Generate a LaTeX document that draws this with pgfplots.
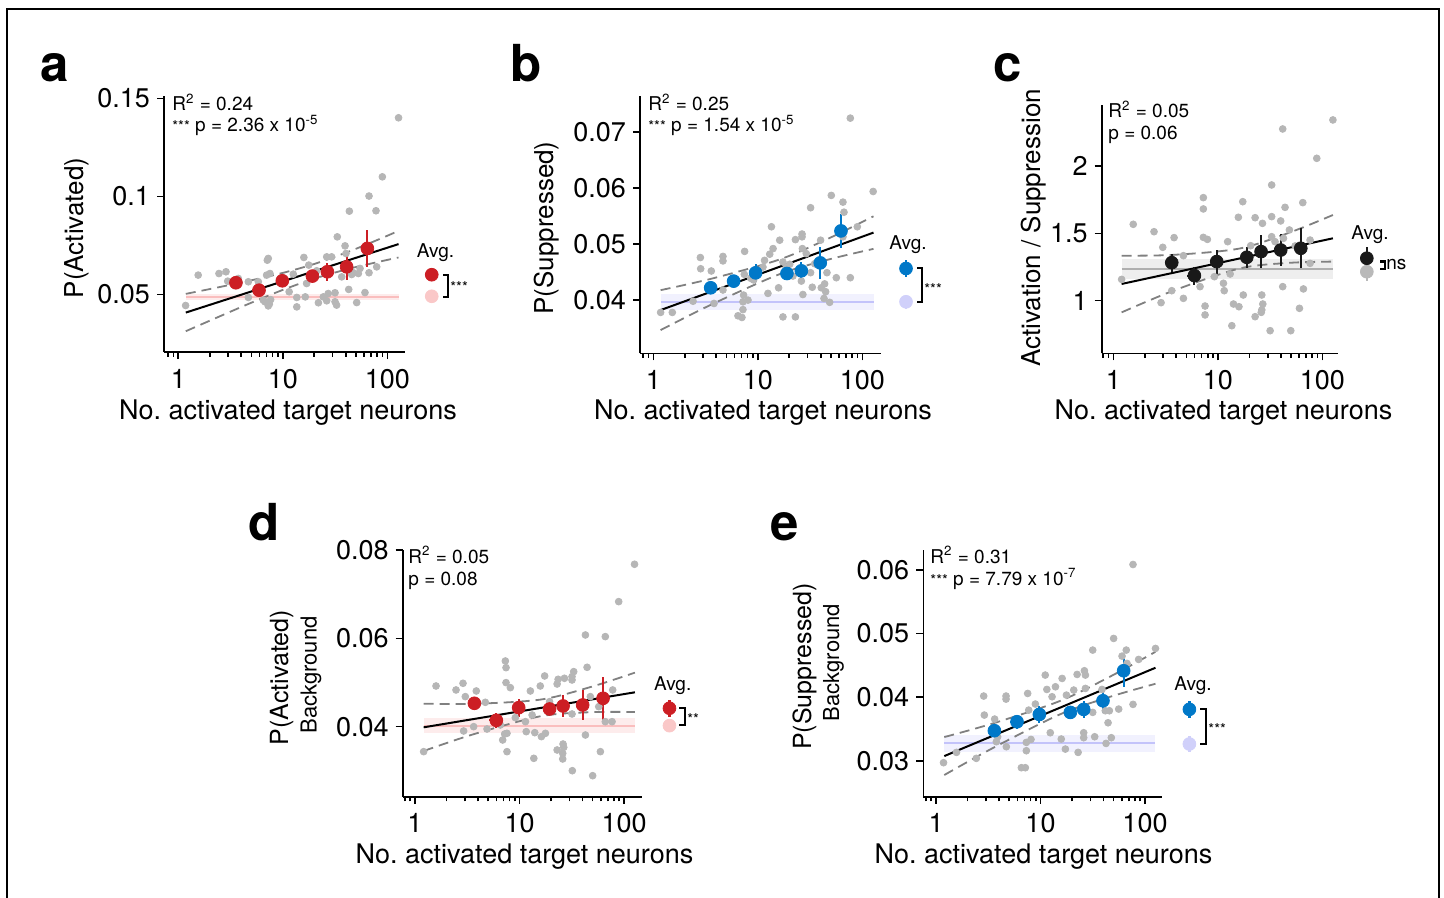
\documentclass[border=0pt]{standalone}
\usepackage{fontspec}
\setmainfont{TeX Gyre Heros}
\usepackage{pgfplots}
\pgfplotsset{compat=1.18}
\newcommand\fs[1]{\fontsize{#1}{#1}\selectfont}
\definecolor{myred}{RGB}{204,30,36}
\definecolor{pinkline}{RGB}{250,190,190}
\definecolor{pinkband}{RGB}{253,236,236}
\definecolor{pinkdot}{RGB}{250,200,200}
\definecolor{myblue}{RGB}{0,120,200}
\definecolor{lavline}{RGB}{195,195,250}
\definecolor{lavband}{RGB}{241,241,254}
\definecolor{lavdot}{RGB}{208,208,250}
\definecolor{ptgray}{RGB}{182,182,182}
\definecolor{dashgray}{RGB}{128,128,128}
\definecolor{myblack}{RGB}{25,25,25}
\definecolor{cline}{RGB}{175,175,175}
\definecolor{cband}{RGB}{238,238,238}
\definecolor{cdot}{RGB}{185,185,185}
\pgfplotsset{
 panel/.style={
  scale only axis,
  axis lines*=left, axis line style={line width=0.8pt, black},
  tick align=outside,
  major tick length=3.5pt, minor tick length=2.3pt,
  tick style={line width=0.8pt, black},
  xtick={1,10,100}, xticklabels={1,10,100},
  minor xtick={0.8,0.9,2,3,4,5,6,7,8,9,20,30,40,50,60,70,80,90},
  tick label style={font=\fs{13.5}},
  xticklabel style={yshift=-1.5pt},
  scaled y ticks=false,
  clip=false,
 },
 gpts/.style={only marks, mark=*, mark size=1.7pt, color=ptgray},
 means/.style={only marks, mark=*, mark size=3.2pt, color=#1,
   error bars/x dir=both, error bars/x explicit,
   error bars/y dir=both, error bars/y explicit,
   error bars/error bar style={line width=1.1pt, color=#1}, error bars/error mark=none},
 ci/.style={dash pattern=on 5pt off 3pt, line width=0.9pt, color=dashgray, smooth},
 reg/.style={line width=1pt, black},
}
\begin{document}
\begin{tikzpicture}
\path[use as bounding box] (0,0) rectangle (722pt,-449pt);
\draw[line width=0.6pt] (3.5pt,-449pt) -- (3.5pt,-4.5pt) -- (719.5pt,-4.5pt) -- (719.5pt,-449pt);

% ---------------- panel a
\begin{axis}[xmode=log, panel, at={(82pt,-176pt)}, anchor=south west, width=120.5pt, height=128pt,
  xmin=0.73, xmax=147.6, ymin=0.0207, ymax=0.1512,
  ytick={0.05,0.1,0.15}, yticklabels={0.05,0.1,0.15}]
\addplot[fill=pinkband, draw=none] coordinates {(1.18,0.0471) (128,0.0471) (128,0.0505) (1.18,0.0505)} -- cycle;
\addplot[pinkline, line width=1pt] coordinates {(1.18,0.0488) (128,0.0488)};
\addplot[gpts] coordinates {(1.175,0.0444) (1.55,0.0599) (2.45,0.0607) (2.86,0.0616) (2.97,0.0568) (3.75,0.0582) (4.68,0.0565) (4.68,0.0485) (7.11,0.0675) (7.26,0.0684) (7.0,0.0599) (7.54,0.0607) (6.51,0.0471) (6.75,0.0463) (7.43,0.0451) (7.26,0.0442) (7.65,0.0474) (11.5,0.0514) (12.6,0.0604) (13.6,0.0485) (13.6,0.0437) (15.9,0.0689) (16.9,0.0556) (16.4,0.0488) (17.7,0.0650) (21.9,0.0458) (24.4,0.0488) (26.3,0.0468) (27.2,0.0505) (26.3,0.0692) (29.3,0.0692) (33.2,0.0794) (31.6,0.0509) (36.6,0.0590) (39.4,0.0748) (40.2,0.0709) (42.7,0.0526) (43.3,0.0925) (45.6,0.0602) (47.3,0.0611) (50.9,0.0459) (52.8,0.0607) (61.1,0.0510) (66.8,0.0611) (66.8,0.1002) (77.9,0.0927) (79.1,0.0641) (89.6,0.1100) (128,0.1401) (32.7,0.0446) (18.2,0.0590) (21.1,0.0621) (5.83,0.0565) (31.6,0.0463) (54.8,0.0633)};
\addplot[ci] coordinates {(1.18,0.05034) (2.33,0.05350) (4.85,0.05709) (10.1,0.06108) (20.3,0.06569) (43.9,0.07210) (91.6,0.07910) (128,0.08247)};
\addplot[ci] coordinates {(1.18,0.03130) (2.33,0.03820) (4.85,0.04553) (10.1,0.05245) (20.3,0.05821) (43.9,0.06326) (91.6,0.06720) (128,0.06887)};
\addplot[reg] coordinates {(1.18,0.0408) (128,0.0757)};
\addplot[means=myred] coordinates {(3.56,0.0560) +- (0.5,0.0015) (5.92,0.0522) +- (0.8,0.0015) (9.89,0.0570) +- (1.3,0.002) (19.2,0.0594) +- (2,0.0025) (26.7,0.0616) +- (2,0.0045) (40.8,0.0641) +- (2.5,0.0065) (64.4,0.0735) +- (3,0.0095)};
\addplot[means=pinkdot] coordinates {(266,0.0491) +- (0,0.0010)};
\addplot[means=myred] coordinates {(266,0.0601) +- (0,0.0026)};
\end{axis}

% ---------------- panel b
\begin{axis}[xmode=log, panel, at={(320pt,-176.65pt)}, anchor=south west, width=120.35pt, height=128.5pt,
  xmin=0.746, xmax=150, ymin=0.0305, ymax=0.0764,
  ytick={0.04,0.05,0.06,0.07}, yticklabels={0.04,0.05,0.06,0.07}]
\addplot[fill=lavband, draw=none] coordinates {(1.175,0.0382) (128,0.0382) (128,0.0411) (1.175,0.0411)} -- cycle;
\addplot[lavline, line width=1pt] coordinates {(1.175,0.0397) (128,0.0397)};
\addplot[gpts] coordinates {(1.175,0.0378) (1.52,0.0378) (2.40,0.0398) (2.82,0.0476) (2.84,0.0456) (3.59,0.0452) (3.81,0.0394) (4.64,0.0478) (4.64,0.0470) (4.64,0.0418) (7.48,0.0487) (7.43,0.0446) (7.31,0.0409) (7.21,0.0397) (7.21,0.0383) (6.46,0.0372) (7.05,0.0369) (8.05,0.0400) (8.54,0.0439) (9.12,0.0436) (11.2,0.0459) (11.6,0.0471) (12.5,0.0412) (13.0,0.0482) (13.5,0.0531) (14.0,0.0492) (15.8,0.0422) (16.2,0.0507) (17.4,0.0468) (17.4,0.0370) (18.7,0.0458) (20.2,0.0464) (21.7,0.0443) (22.9,0.0508) (22.9,0.0370) (26.5,0.0518) (26.5,0.0513) (26.7,0.0492) (27.0,0.0410) (26.1,0.0434) (29.1,0.0483) (32.0,0.0565) (33.2,0.0423) (32.0,0.0449) (35.0,0.0465) (39.9,0.0507) (40.5,0.0422) (43.6,0.0429) (43.0,0.0403) (44.6,0.0415) (45.9,0.0449) (48.7,0.0396) (50.5,0.0587) (56.4,0.0440) (65.3,0.0575) (66.8,0.0557) (65.3,0.0513) (76.8,0.0440) (76.8,0.0725) (89.6,0.0531) (127,0.0594)};
\addplot[ci] coordinates {(1.175,0.04178) (3.72,0.04389) (16.3,0.04728) (48.7,0.05110) (128,0.05497)};
\addplot[ci] coordinates {(1.175,0.03465) (3.72,0.03934) (16.3,0.04466) (48.7,0.04730) (128,0.04915)};
\addplot[reg] coordinates {(1.175,0.03822) (128,0.05206)};
\addplot[means=myblue] coordinates {(3.54,0.04220) +- (0.5,0.0011) (5.87,0.04339) +- (0.8,0.0009) (9.53,0.04487) +- (1.2,0.0016) (19.0,0.04475) +- (2,0.0012) (26.1,0.04523) +- (2.5,0.0015) (39.6,0.04665) +- (2.5,0.0029) (62.5,0.05236) +- (3,0.0031)};
\addplot[means=lavdot] coordinates {(262,0.0397) +- (0,0.0012)};
\addplot[means=myblue] coordinates {(262,0.04565) +- (0,0.0015)};
\end{axis}

% ---------------- panel c
\begin{axis}[xmode=log, panel, at={(550.85pt,-176.65pt)}, anchor=south west, width=118.15pt, height=124.15pt,
  xmin=0.774, xmax=141, ymin=0.609, ymax=2.453,
  ytick={1,1.5,2}, yticklabels={1,1.5,2}]
\addplot[fill=cband, draw=none] coordinates {(1.20,1.158) (126,1.158) (126,1.309) (1.20,1.309)} -- cycle;
\addplot[cline, line width=1pt] coordinates {(1.20,1.235) (126,1.235)};
\addplot[gpts] coordinates {(1.20,1.158) (1.55,1.567) (2.45,1.512) (2.97,1.396) (2.86,0.985) (3.81,1.468) (3.62,1.074) (4.68,1.334) (4.68,1.017) (7.26,1.765) (7.26,1.681) (7.26,1.470) (7.94,1.455) (7.54,0.960) (7.54,0.894) (6.75,1.104) (9.26,1.178) (11.3,1.129) (11.5,1.074) (12.4,1.438) (13.1,1.198) (13.6,0.814) (14.1,0.975) (15.9,0.955) (15.7,1.619) (17.3,1.735) (17.5,1.042) (19.6,1.314) (20.6,1.408) (22.7,1.616) (22.7,0.881) (26.7,1.574) (26.3,1.042) (26.9,0.975) (26.3,0.931) (26.0,0.913) (32.7,1.624) (32.7,1.859) (31.6,0.777) (32.7,1.475) (35.2,1.438) (39.9,1.592) (41.7,2.275) (43.9,1.693) (41.7,1.104) (42.4,1.463) (48.3,1.525) (49.8,0.777) (54.8,1.406) (60.3,0.943) (64.9,1.728) (65.8,1.087) (76.2,1.277) (76.2,1.450) (88.3,2.057) (126,2.342)};
\addplot[ci] coordinates {(1.20,1.334) (3.75,1.340) (16.1,1.387) (49.0,1.507) (126,1.636)};
\addplot[ci] coordinates {(1.20,0.913) (3.75,1.074) (16.1,1.239) (49.0,1.281) (126,1.290)};
\addplot[reg] coordinates {(1.20,1.124) (126,1.463)};
\addplot[means=myblack] coordinates {(3.62,1.282) +- (0.45,0.067) (5.96,1.186) +- (0.9,0.067) (9.75,1.290) +- (1.2,0.089) (18.9,1.322) +- (1.8,0.077) (25.9,1.364) +- (2,0.12) (39.9,1.376) +- (2.5,0.12) (62.1,1.389) +- (3,0.149)};
\addplot[means=cdot] coordinates {(266,1.215) +- (0,0.07)};
\addplot[means=myblack] coordinates {(266,1.315) +- (0,0.08)};
\end{axis}

% ---------------- panel d
\begin{axis}[xmode=log, panel, at={(201.35pt,-398.35pt)}, anchor=south west, width=119.5pt, height=123.35pt,
  xmin=0.763, xmax=147.6, ymin=0.02414, ymax=0.08,
  ytick={0.04,0.06,0.08}, yticklabels={0.04,0.06,0.08}]
\addplot[fill=pinkband, draw=none] coordinates {(1.21,0.03864) (127,0.03864) (127,0.04189) (1.21,0.04189)} -- cycle;
\addplot[pinkline, line width=1pt] coordinates {(1.21,0.04023) (127,0.04023)};
\addplot[gpts] coordinates {(1.21,0.03434) (1.59,0.04921) (2.47,0.04831) (2.88,0.04982) (3.03,0.04680) (2.92,0.03902) (3.64,0.04000) (3.86,0.04808) (4.71,0.04551) (4.89,0.03947) (6.56,0.04038) (6.90,0.03698) (7.21,0.03834) (7.59,0.03849) (7.32,0.05487) (7.43,0.05336) (7.43,0.04997) (7.59,0.03434) (8.17,0.04883) (9.12,0.04204) (11.4,0.04113) (11.6,0.03887) (12.7,0.04808) (13.2,0.04264) (13.7,0.03283) (14.0,0.03864) (15.8,0.04921) (16.2,0.03774) (17.4,0.05148) (17.7,0.03849) (19.4,0.04566) (22.9,0.04966) (22.9,0.03472) (23.4,0.05072) (25.9,0.03396) (26.1,0.03607) (26.5,0.03532) (25.9,0.03268) (26.9,0.05095) (31.8,0.05057) (31.8,0.05133) (33.0,0.05246) (31.8,0.04287) (32.0,0.03003) (42.7,0.06076) (42.7,0.03811) (44.3,0.05344) (47.6,0.04680) (50.1,0.02890) (57.3,0.04453) (59.4,0.03434) (66.2,0.04113) (66.2,0.06039) (76.8,0.04113) (77.9,0.04831) (88.9,0.06831) (126,0.07677)};
\addplot[ci] coordinates {(1.21,0.04521) (3.64,0.04517) (15.9,0.04613) (47.6,0.04896) (127,0.05223)};
\addplot[ci] coordinates {(1.21,0.03449) (3.64,0.03829) (15.9,0.04236) (47.6,0.04327) (127,0.04332)};
\addplot[reg] coordinates {(1.21,0.03985) (127,0.04778)};
\addplot[means=myred] coordinates {(3.70,0.04529) +- (0.5,0.0015) (6.00,0.04143) +- (0.9,0.0017) (9.82,0.04430) +- (1.3,0.0020) (19.4,0.04400) +- (2,0.0014) (26.1,0.04468) +- (2,0.0026) (40.2,0.04491) +- (2.5,0.0035) (63.0,0.04642) +- (3,0.0049)};
\addplot[means=pinkdot] coordinates {(272,0.04023) +- (0,0.0010)};
\addplot[means=myred] coordinates {(272,0.04417) +- (0,0.0019)};
\end{axis}

% ---------------- panel e
\begin{axis}[xmode=log, panel, at={(461.65pt,-398.35pt)}, anchor=south west, width=119.2pt, height=123.35pt,
  xmin=0.756, xmax=144.5, ymin=0.02434, ymax=0.06314,
  ytick={0.03,0.04,0.05,0.06}, yticklabels={0.03,0.04,0.05,0.06}]
\addplot[fill=lavband, draw=none] coordinates {(1.20,0.03131) (126,0.03131) (126,0.03403) (1.20,0.03403)} -- cycle;
\addplot[lavline, line width=1pt] coordinates {(1.20,0.03272) (126,0.03272)};
\addplot[gpts] coordinates {(1.18,0.02969) (1.57,0.03131) (2.43,0.03037) (2.86,0.04017) (2.90,0.03718) (3.64,0.03655) (3.78,0.03299) (3.89,0.03377) (4.68,0.04017) (4.68,0.03969) (4.71,0.03220) (5.83,0.03639) (6.56,0.02890) (7.16,0.02890) (7.32,0.03157) (7.32,0.03288) (7.54,0.04058) (7.71,0.03796) (8.11,0.03335) (8.93,0.03891) (11.1,0.04347) (11.5,0.04121) (12.4,0.03440) (12.9,0.04006) (13.9,0.04163) (15.8,0.03341) (16.1,0.04294) (17.3,0.03183) (17.7,0.04032) (20.8,0.04111) (22.4,0.04357) (22.9,0.03131) (25.9,0.03440) (25.9,0.03362) (26.3,0.04415) (26.9,0.04137) (26.9,0.04347) (31.6,0.04740) (31.6,0.03760) (33.0,0.03377) (38.8,0.04121) (41.7,0.03786) (42.4,0.03272) (44.3,0.03597) (45.6,0.03786) (47.6,0.03362) (50.1,0.04923) (56.0,0.03812) (60.3,0.04645) (66.2,0.04740) (67.3,0.04530) (76.8,0.03886) (76.8,0.06086) (86.9,0.04593) (126,0.04766)};
\addplot[ci] coordinates {(1.20,0.03372) (3.56,0.03590) (15.5,0.03942) (46.6,0.04325) (126,0.04713)};
\addplot[ci] coordinates {(1.20,0.02775) (3.56,0.03206) (15.5,0.03732) (46.6,0.04007) (126,0.04210)};
\addplot[reg] coordinates {(1.20,0.03073) (126,0.04462)};
\addplot[means=myblue] coordinates {(3.62,0.03472) +- (0.5,0.0010) (5.96,0.03613) +- (0.8,0.0011) (9.75,0.03728) +- (1.3,0.0014) (19.3,0.03760) +- (2,0.0010) (25.9,0.03807) +- (2,0.0013) (39.6,0.03943) +- (2.5,0.0020) (62.5,0.04415) +- (3,0.0026)};
\addplot[means=lavdot] coordinates {(266,0.03263) +- (0,0.0013)};
\addplot[means=myblue] coordinates {(266,0.03808) +- (0,0.0013)};
\end{axis}

% ---------------- texts (pixel coordinates)
\begin{scope}[x=0.5pt,y=-0.5pt]
\foreach \l/\x/\y in {a/40/82, b/510/82, c/993/82, d/248/540, e/770/540}
  \node[anchor=base west, inner sep=0, font=\fs{25.5}\bfseries] at (\x,\y) {\l};
% y labels
\node[rotate=90, font=\fs{13}, inner sep=0] at (77,228) {P(Activated)};
\node[rotate=90, font=\fs{13}, inner sep=0] at (547,228) {P(Suppressed)};
\node[rotate=90, font=\fs{13}, inner sep=0] at (1033.5,228) {Activation / Suppression};
\node[rotate=90, font=\fs{12.5}, inner sep=0] at (281.7,677.5) {P(Activated)};
\node[rotate=90, font=\fs{11}, inner sep=0] at (311,675) {Background};
\node[rotate=90, font=\fs{12.5}, inner sep=0] at (804.5,666.5) {P(Suppressed)};
\node[rotate=90, font=\fs{11}, inner sep=0] at (833.5,662.5) {Background};
% x labels
\foreach \x/\y in {288/419, 763/419, 1223.5/419, 524.5/863, 1043.5/863}
  \node[anchor=base, font=\fs{13.5}, inner sep=0] at (\x,\y) {No.\ activated target neurons};
% stats
\node[anchor=base west, inner sep=0, font=\fs{9.5}] at (172,111) {R\textsuperscript{2} = 0.24};
\node[anchor=base west, inner sep=0, font=\fs{9.5}] at (172,132) {{\fs{7.5}***} p = 2.36 x 10\textsuperscript{-5}};
\node[anchor=base west, inner sep=0, font=\fs{9.5}] at (648,111) {R\textsuperscript{2} = 0.25};
\node[anchor=base west, inner sep=0, font=\fs{9.5}] at (648,132) {{\fs{7.5}***} p = 1.54 x 10\textsuperscript{-5}};
\node[anchor=base west, inner sep=0, font=\fs{9.5}] at (1108,118) {R\textsuperscript{2} = 0.05};
\node[anchor=base west, inner sep=0, font=\fs{9.5}] at (1108,140) {p = 0.06};
\node[anchor=base west, inner sep=0, font=\fs{9.5}] at (408,563) {R\textsuperscript{2} = 0.05};
\node[anchor=base west, inner sep=0, font=\fs{9.5}] at (408,585) {p = 0.08};
\node[anchor=base west, inner sep=0, font=\fs{9.5}] at (930,563) {R\textsuperscript{2} = 0.31};
\node[anchor=base west, inner sep=0, font=\fs{9.5}] at (930,585) {{\fs{7.5}***} p = 7.79 x 10\textsuperscript{-7}};
% Avg. labels
\foreach \x/\y in {435.5/258, 908/249.5, 1370/240, 672.7/690, 1193/690}
  \node[anchor=base, inner sep=0, font=\fs{9.5}] at (\x,\y) {Avg.};
% brackets
\draw[line width=1.1pt] (443,275) -- (448,275) -- (448,297) -- (443,297);
\node[anchor=west, inner sep=0, font=\fs{7.5}] at (450,287) {***};
\draw[line width=1.1pt] (917,268) -- (922,268) -- (922,302) -- (917,302);
\node[anchor=west, inner sep=0, font=\fs{7.5}] at (924,289) {***};
\draw[line width=1.2pt] (1380,261.5) -- (1385,261.5) -- (1385,269) -- (1380,269);
\node[anchor=west, inner sep=0, font=\fs{9.5}] at (1386,265) {ns};
\draw[line width=1.1pt] (679,708) -- (685,708) -- (685,725) -- (679,725);
\node[anchor=west, inner sep=0, font=\fs{7.5}] at (687,719) {**};
\draw[line width=1.1pt] (1200,709) -- (1206,709) -- (1206,744) -- (1200,744);
\node[anchor=west, inner sep=0, font=\fs{7.5}] at (1208,729) {***};
\end{scope}
\end{tikzpicture}
\end{document}
